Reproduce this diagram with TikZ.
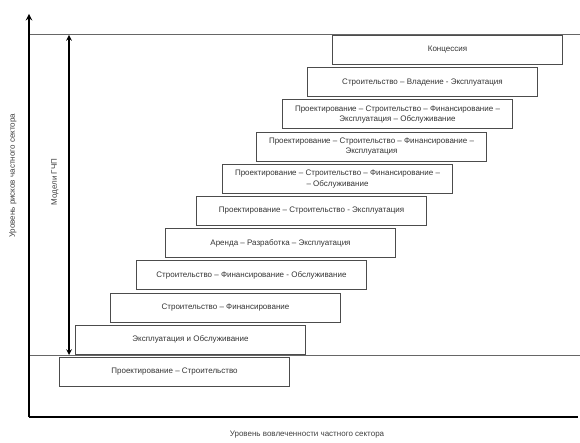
\documentclass[tikz,border=0pt]{standalone}
\usepackage{fontspec}
\setmainfont{Liberation Sans}
\usepackage{xcolor}
\tikzstyle{model}=[draw=black!70, line width=1pt, anchor=north west, minimum width=230pt, minimum height=29pt, inner sep=1pt, align=center, text=black!80, font=\fontsize{8}{10.5}\selectfont]
\tikzstyle{axis}=[line width=1.8pt, -stealth]
\tikzstyle{level}=[black!60, line width=1pt]
\tikzstyle{axislabel}=[text=black!75, font=\fontsize{8}{9}\selectfont]
\newcommand{\model}{\node[model]}

\begin{document}
\begin{tikzpicture}[x=1pt,y=-1pt]
\useasboundingbox (0,0) rectangle (580,443);
\coordinate (o) at (29,417);
\coordinate (ytop) at (29,14);
\coordinate (xend) at (578,417);
\coordinate (hi0) at (30,35);
\coordinate (hi1) at (580,35);
\coordinate (lo0) at (30,355);
\coordinate (lo1) at (580,355);
\coordinate (up) at (69,35);
\coordinate (down) at (69,355);
\foreach \i/\x/\txt in {0/332/{Концессия},
	1/307/{Строительство – Владение - Эксплуатация},
	2/282/{Проектирование – Строительство – Финансирование –\\Эксплуатация – Обслуживание},
	3/256/{Проектирование – Строительство – Финансирование –\\Эксплуатация},
	4/222/{Проектирование – Строительство – Финансирование –\\– Обслуживание},
	5/196/{Проектирование – Строительство - Эксплуатация},
	6/165/{Аренда – Разработка – Эксплуатация},
	7/136/{Строительство – Финансирование - Обслуживание},
	8/110/{Строительство – Финансирование},
	9/75/{Эксплуатация и Обслуживание},
	10/59/{Проектирование – Строительство}}{
	\model (m\i) at (\x,{35+32.2*\i}) {\txt};
	}
\draw[level] (hi0) -- (hi1) (lo0) -- (lo1);
\draw[axis] (o) -- (ytop);
\draw[line width=1.8pt] (o) -- (xend);
\draw[stealth-stealth, line width=1.5pt] (up) -- (down);
\node[axislabel, rotate=90] (risk) at (13,176) {Уровень рисков частного сектора};
\node[axislabel, rotate=90] (ppp) at (55,182) {Модели ГЧП};
\node[axislabel] (inv) at (307,435) {Уровень вовлеченности частного сектора};
\end{tikzpicture}
\end{document}
